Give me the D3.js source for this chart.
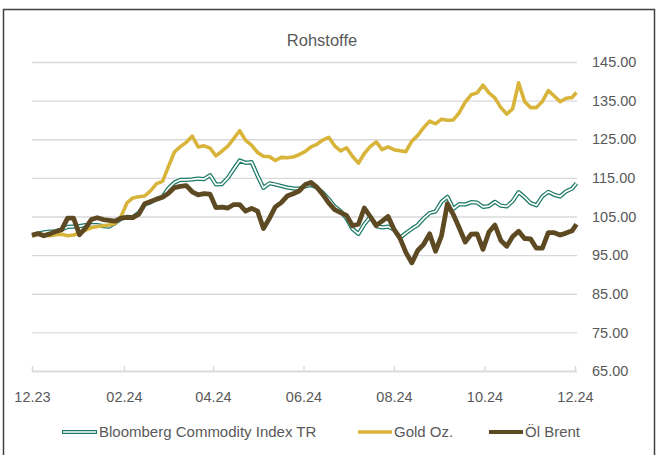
<!DOCTYPE html>
<html>
<head>
<meta charset="utf-8">
<script src="https://cdn.jsdelivr.net/npm/d3@7"></script>
<style>
  body { margin: 0; background: #fff; }
  svg { display: block; font-family: "Liberation Sans", Arial, sans-serif; }
</style>
</head>
<body>
<svg id="chart" width="656" height="455"></svg>
<script>
// sample dates, every 4 days
const dates = [
  "2023-12-01","2023-12-05","2023-12-09","2023-12-13","2023-12-17","2023-12-21","2023-12-25","2023-12-29",
  "2024-01-02","2024-01-06","2024-01-10","2024-01-14","2024-01-18","2024-01-22","2024-01-26","2024-01-30",
  "2024-02-03","2024-02-07","2024-02-11","2024-02-15","2024-02-19","2024-02-23","2024-02-27",
  "2024-03-02","2024-03-06","2024-03-10","2024-03-14","2024-03-18","2024-03-22","2024-03-26","2024-03-30",
  "2024-04-03","2024-04-07","2024-04-11","2024-04-15","2024-04-19","2024-04-23","2024-04-27",
  "2024-05-01","2024-05-05","2024-05-09","2024-05-13","2024-05-17","2024-05-21","2024-05-25","2024-05-29",
  "2024-06-02","2024-06-06","2024-06-10","2024-06-14","2024-06-18","2024-06-22","2024-06-26","2024-06-30",
  "2024-07-04","2024-07-08","2024-07-12","2024-07-16","2024-07-20","2024-07-24","2024-07-28",
  "2024-08-01","2024-08-05","2024-08-09","2024-08-13","2024-08-17","2024-08-21","2024-08-25","2024-08-29",
  "2024-09-02","2024-09-06","2024-09-10","2024-09-14","2024-09-18","2024-09-22","2024-09-26","2024-09-30",
  "2024-10-04","2024-10-08","2024-10-12","2024-10-16","2024-10-20","2024-10-24","2024-10-28",
  "2024-11-01","2024-11-05","2024-11-09","2024-11-13","2024-11-17","2024-11-21","2024-11-25","2024-11-29",
  "2024-12-02"
];

const bloomberg = [
  100, 100.5, 100.9, 101.1, 101.1, 101.6, 102.3, 102.4, 102.5, 102.8,
  102.8, 102.8, 102.5, 102.4, 103.3, 104.4, 104.9, 104.8, 106, 108.1,
  108.7, 109.5, 110.1, 112.3, 113.8, 114.5, 114.5, 114.6, 114.8, 114.7,
  115.7, 113.3, 113.4, 115, 117.3, 119.5, 118.9, 119.1, 115.6, 112.4,
  113.6, 113.3, 112.9, 112.5, 112.3, 112.2, 112.8, 113.2, 112.5, 111.2,
  109.5, 107.6, 106.4, 104.5, 101.8, 100.5, 103, 104.9, 102.5, 102.2,
  102.4, 101.6, 99.5, 100.7, 101.8, 102.8, 104.5, 105.9, 106.3, 108.8,
  110.1, 107, 108.2, 108.1, 108.7, 108.6, 107.5, 107.7, 108.8, 107.8,
  107.6, 109, 111.3, 110, 108.5, 107.9, 110.2, 111.4, 110.6, 110.2,
  111.5, 112.2, 113.6
];

const gold = [
  100, 100.4, 100.3, 100, 100.3, 100.4, 100, 100.2, 100.7, 101.5,
  102.1, 102.4, 102.6, 102.8, 103.2, 105, 108.5, 109.8, 110.1, 110.3,
  111.7, 113.5, 114.1, 118, 121.7, 123.1, 124.2, 125.8, 123, 123.3,
  122.7, 120.7, 121.9, 123.2, 125.2, 127.2, 124.7, 123.5, 121.6, 120.6,
  120.5, 119.5, 120.3, 120.2, 120.4, 121, 121.8, 123, 123.7, 124.8,
  125.5, 123.3, 122, 122.8, 120.6, 118.8, 121.3, 123.1, 124.3, 122.3,
  123, 122.3, 122, 121.8, 124.5, 126, 128, 129.7, 129, 130.2,
  129.9, 130, 131.9, 134.6, 136.5, 137, 139, 137, 135.7, 133.2,
  131.5, 132.9, 139.6, 134.8, 133.2, 133.2, 134.8, 137.6, 136.2, 134.7,
  135.6, 135.8, 137.1
];

const brent = [
  100.2, 100.6, 100, 100.5, 101.1, 101.6, 104.6, 104.6, 100.3, 102,
  104.2, 104.7, 104.2, 104, 103.8, 104.6, 104.8, 104.7, 105.6, 108.3,
  108.9, 109.5, 110, 111, 112.5, 112.8, 113, 111.4, 110.6, 110.9,
  110.8, 107.3, 107.4, 107.2, 108.1, 108.1, 106.4, 107.1, 106.4, 101.9,
  104.5, 107.5, 108.6, 110.3, 110.9, 111.6, 113.2, 113.8, 112.6, 110.7,
  108.5, 106.8, 106, 105.3, 102.6, 103, 107.2, 105, 102.7, 103.8,
  105, 101.7, 99.4, 95.7, 93, 96.2, 97.8, 100.5, 96, 100,
  108.3, 105.5, 102, 98.4, 100.4, 100.5, 96.5, 101, 102.8, 98.8,
  97.3, 99.8, 101.2, 99.3, 99.2, 96.8, 96.8, 100.8, 100.8, 100.2,
  100.7, 101.3, 103
];

const tickDates = ["2023-12-01","2024-02-01","2024-04-01","2024-06-01","2024-08-01","2024-10-01","2024-12-01"];
const yTicks = [65, 75, 85, 95, 105, 115, 125, 135, 145];
const seriesNames = ["Bloomberg Commodity Index TR", "Gold Oz.", "Öl Brent"];
const title = "Rohstoffe";

const TEXT = "#595959";
const GRID = "#d9d9d9";
const TEAL = "#1d7a66";
const GOLD = "#d9b43a";
const BROWN = "#5e4a22";

const parse = d3.timeParse("%Y-%m-%d");
const dateObjs = dates.map(parse);

const svg = d3.select("#chart");

const x = d3.scaleTime()
  .domain([parse("2023-12-01"), parse("2024-12-01")])
  .range([32, 575]);

const y = d3.scaleLinear()
  .domain([65, 145])
  .range([371, 62]);

// frame
svg.append("rect")
  .attr("x", 3.5).attr("y", 9.5)
  .attr("width", 651).attr("height", 460)
  .attr("fill", "none")
  .attr("stroke", "#404040")
  .attr("stroke-width", 1.5);

svg.append("text")
  .attr("x", 322).attr("y", 46)
  .attr("text-anchor", "middle")
  .attr("fill", TEXT)
  .style("font-size", "16.5px")
  .text(title);

// grid + right labels
const yAxis = svg.append("g")
  .attr("transform", "translate(577,0)")
  .call(d3.axisRight(y)
    .tickValues(yTicks)
    .tickFormat(d3.format(".2f"))
    .tickSize(-545)
    .tickPadding(15));
yAxis.select(".domain").remove();
yAxis.selectAll("line").attr("stroke", GRID).attr("stroke-width", 1.3);
yAxis.selectAll("text").attr("fill", TEXT).style("font-size", "14.5px");

// x axis
const xAxis = svg.append("g")
  .attr("transform", "translate(0,371)")
  .call(d3.axisBottom(x)
    .tickValues(tickDates.map(parse))
    .tickFormat(d3.timeFormat("%m.%y"))
    .tickSize(-5)
    .tickPadding(21));
xAxis.select(".domain").attr("stroke", GRID).attr("stroke-width", 1.3);
xAxis.selectAll("line").attr("stroke", GRID).attr("stroke-width", 1.3);
xAxis.selectAll("text").attr("fill", TEXT).style("font-size", "14.5px");

const line = d3.line()
  .x((d, i) => x(dateObjs[i]))
  .y(d => y(d));

// Bloomberg: teal outline with white core
svg.append("path").datum(bloomberg)
  .attr("d", line).attr("fill", "none")
  .attr("stroke", TEAL).attr("stroke-width", 4.2)
  .attr("stroke-linejoin", "round");
svg.append("path").datum(bloomberg)
  .attr("d", line).attr("fill", "none")
  .attr("stroke", "#fff").attr("stroke-width", 1.7)
  .attr("stroke-linejoin", "round");

svg.append("path").datum(gold)
  .attr("d", line).attr("fill", "none")
  .attr("stroke", GOLD).attr("stroke-width", 3.6)
  .attr("stroke-linejoin", "round");

svg.append("path").datum(brent)
  .attr("d", line).attr("fill", "none")
  .attr("stroke", BROWN).attr("stroke-width", 4.8)
  .attr("stroke-linejoin", "round");

// legend
const LEGEND_Y = 432;
const legendItems = [
  { x0: 62, x1: 97, color: TEAL, width: 4.2, core: true },
  { x0: 358, x1: 392, color: GOLD, width: 3.6, core: false },
  { x0: 489, x1: 523, color: BROWN, width: 4.2, core: false }
];

legendItems.forEach((item, i) => {
  svg.append("line")
    .attr("x1", item.x0).attr("x2", item.x1)
    .attr("y1", LEGEND_Y).attr("y2", LEGEND_Y)
    .attr("stroke", item.color).attr("stroke-width", item.width);
  if (item.core) {
    svg.append("line")
      .attr("x1", item.x0 + 1).attr("x2", item.x1 - 1)
      .attr("y1", LEGEND_Y).attr("y2", LEGEND_Y)
      .attr("stroke", "#fff").attr("stroke-width", 1.7);
  }
  svg.append("text")
    .attr("x", item.x1 + 2).attr("y", LEGEND_Y)
    .attr("dy", "0.36em")
    .attr("fill", TEXT)
    .style("font-size", "15px")
    .text(seriesNames[i]);
});
</script>
</body>
</html>
